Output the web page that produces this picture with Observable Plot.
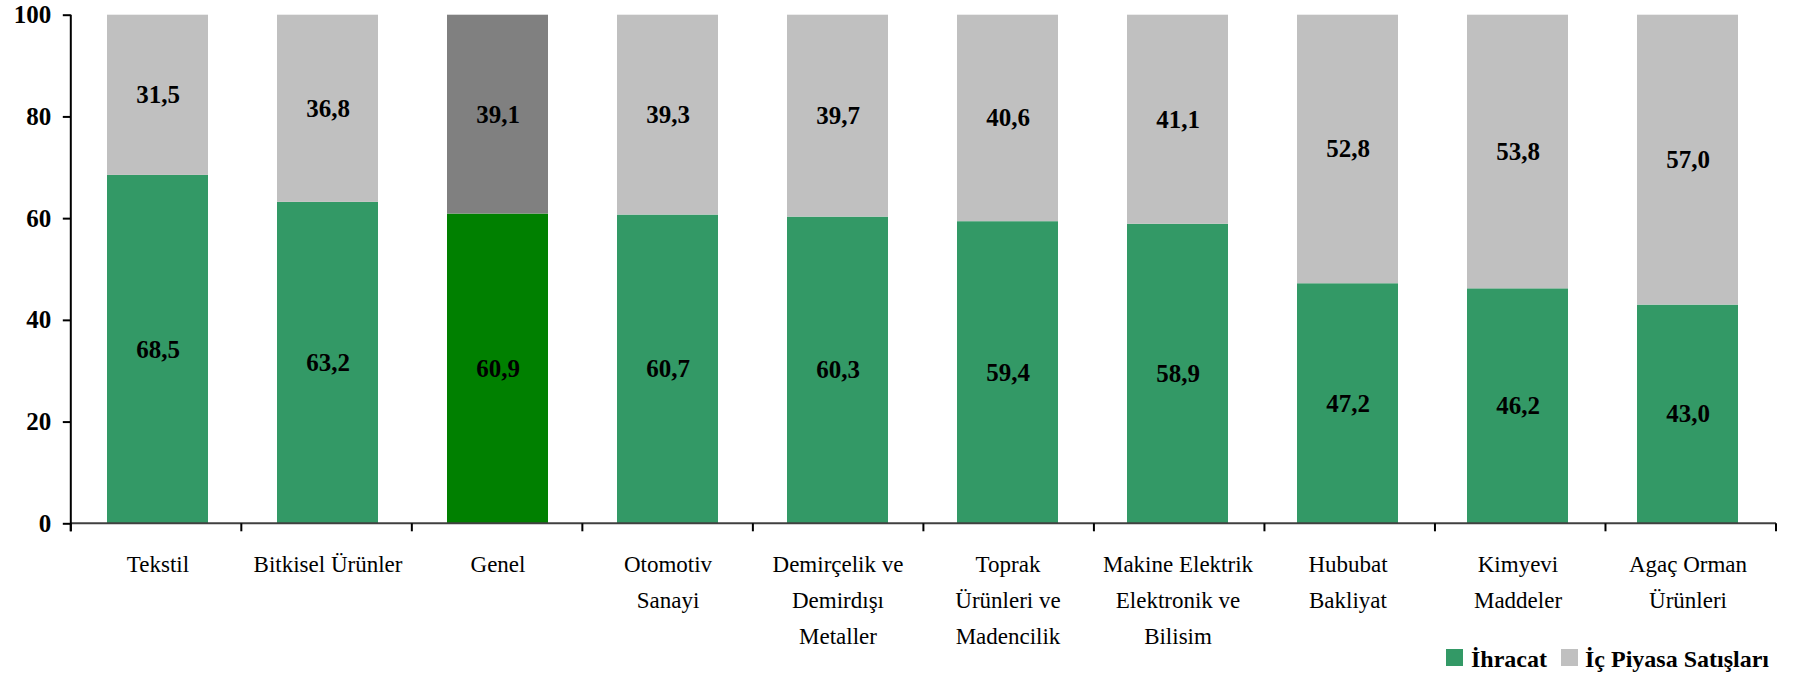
<!DOCTYPE html>
<html>
<head>
<meta charset="utf-8">
<script src="https://cdn.jsdelivr.net/npm/d3@7"></script>
<script src="https://cdn.jsdelivr.net/npm/@observablehq/plot@0.6"></script>
<style>
  body { margin: 0; background: #fff; }
  #wrap { position: relative; width: 1805px; height: 673px; }
  .lg { position: absolute; font: bold 24px "Liberation Serif", serif; color: #000; white-space: nowrap; line-height: 1; }
  .sw { position: absolute; width: 17px; height: 17px; }
</style>
</head>
<body>
<div id="wrap"></div>
<script>
const categories = ["Tekstil", "Bitkisel Ürünler", "Genel", "Otomotiv Sanayi", "Demirçelik ve Demirdışı Metaller",
  "Toprak Ürünleri ve Madencilik", "Makine Elektrik Elektronik ve Bilisim", "Hububat Bakliyat", "Kimyevi Maddeler", "Agaç Orman Ürünleri"];
const tickLabels = ["Tekstil", "Bitkisel Ürünler", "Genel", "Otomotiv\nSanayi", "Demirçelik ve\nDemirdışı\nMetaller",
  "Toprak\nÜrünleri ve\nMadencilik", "Makine Elektrik\nElektronik ve\nBilisim", "Hububat\nBakliyat", "Kimyevi\nMaddeler", "Agaç Orman\nÜrünleri"];
const ihracat = [68.5, 63.2, 60.9, 60.7, 60.3, 59.4, 58.9, 47.2, 46.2, 43.0];
const icPiyasa = [31.5, 36.8, 39.1, 39.3, 39.7, 40.6, 41.1, 52.8, 53.8, 57.0];
const seriesNames = ["İhracat", "İç Piyasa Satışları"];
const yTicks = [0, 20, 40, 60, 80, 100];
const highlight = "Genel";
const colors = {
  "İhracat": "#339966",
  "İç Piyasa Satışları": "#C0C0C0",
  "İhracat*": "#008000",
  "İç Piyasa Satışları*": "#808080"
};

const rows = [];
categories.forEach((c, i) => {
  rows.push({cat: c, series: seriesNames[0], value: ihracat[i]});
  rows.push({cat: c, series: seriesNames[1], value: icPiyasa[i]});
});
const labelOf = new Map(categories.map((c, i) => [c, tickLabels[i]]));
const fmt = v => v.toFixed(1).replace(".", ",");
const FONT = "'Liberation Serif', serif";
const PI = 0.405;

function axesLines(index, scales, values, dims) {
  const y = scales.y;
  const n = categories.length;
  const x0 = dims.marginLeft, x1 = dims.width - dims.marginRight;
  const step = (x1 - x0) / n;
  const y0 = y(0), yTop = y(100);
  const g = d3.create("svg:g");
  g.append("line").attr("x1", x0).attr("x2", x1)
    .attr("y1", y0).attr("y2", y0).attr("stroke", "#404040").attr("stroke-width", 2);
  for (let i = 0; i <= n; i++) {
    const bx = x0 + i * step;
    g.append("line").attr("x1", bx).attr("x2", bx).attr("y1", y0).attr("y2", y0 + 8)
      .attr("stroke", "#000").attr("stroke-width", 2);
  }
  g.append("line").attr("x1", x0).attr("x2", x0)
    .attr("y1", yTop).attr("y2", y0 + 8).attr("stroke", "#000").attr("stroke-width", 2);
  return g.node();
}

const chart = Plot.plot({
  width: 1805,
  height: 673,
  marginTop: 14.7,
  marginBottom: 149.7,
  marginLeft: 70.8,
  marginRight: 29,
  style: {fontFamily: FONT, color: "#000", background: "#fff"},
  x: {domain: categories, paddingInner: PI, paddingOuter: PI / 2, align: 0.483, label: null},
  y: {domain: [0, 100], label: null},
  marks: [
    Plot.barY(rows, Plot.stackY({
      x: "cat", y: "value",
      fill: d => colors[d.series + (d.cat === highlight ? "*" : "")]
    })),
    Plot.text(rows, Plot.stackY({
      x: "cat", y: "value", text: d => fmt(d.value),
      fontSize: 25, fontWeight: "bold", fill: "#000"
    })),
    Plot.axisY({ticks: yTicks, tickSize: 8, tickPadding: 12, fontSize: 25, fontWeight: "bold",
      strokeWidth: 2, label: null}),
    Plot.axisX({tickSize: 0, tickPadding: 23, fontSize: 23, lineHeight: 36 / 23,
      tickFormat: d => labelOf.get(d), label: null}),
    axesLines
  ]
});

const wrap = document.getElementById("wrap");
wrap.appendChild(chart);
const legendPos = [{sq: 1446, tx: 1471}, {sq: 1561, tx: 1585}];
seriesNames.forEach((s, i) => {
  const sw = document.createElement("span");
  sw.className = "sw";
  sw.style.left = legendPos[i].sq + "px";
  sw.style.top = "649px";
  sw.style.background = colors[s];
  wrap.appendChild(sw);
  const t = document.createElement("span");
  t.className = "lg";
  t.style.left = legendPos[i].tx + "px";
  t.style.top = "647px";
  t.textContent = s;
  wrap.appendChild(t);
});
</script>
</body>
</html>
